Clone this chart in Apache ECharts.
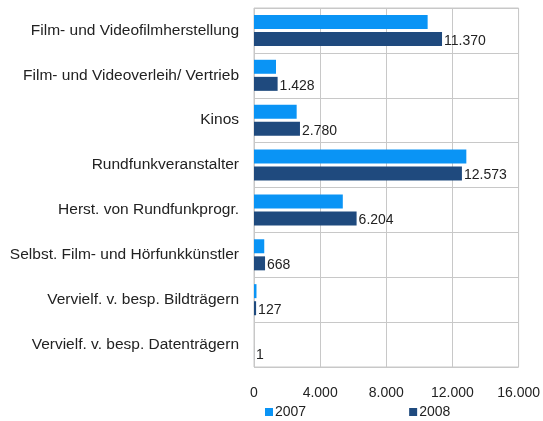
<!DOCTYPE html>
<html>
<head>
<meta charset="utf-8">
<script src="https://cdn.jsdelivr.net/npm/echarts@6/dist/echarts.min.js"></script>
<style>
html, body { margin: 0; padding: 0; background: #fff; }
#chart { width: 543px; height: 421px; }
</style>
</head>
<body>
<div id="chart"></div>
<script>
var categories = [
    'Film- und Videofilmherstellung',
    'Film- und Videoverleih/ Vertrieb',
    'Kinos',
    'Rundfunkveranstalter',
    'Herst. von Rundfunkprogr.',
    'Selbst. Film- und Hörfunkkünstler',
    'Vervielf. v. besp. Bildträgern',
    'Vervielf. v. besp. Datenträgern'
];
var values2007 = [10500, 1330, 2580, 12840, 5370, 620, 150, 0];
var values2008 = [11370, 1428, 2780, 12573, 6204, 668, 127, 1];
var seriesNames = ['2007', '2008'];

function dotNum(v) {
    return String(v).replace(/\B(?=(\d{3})+(?!\d))/g, '.');
}

var chart = echarts.init(document.getElementById('chart'));
var font = 'Liberation Sans, Arial, sans-serif';
chart.setOption({
    animation: false,
    textStyle: {fontFamily: font},
    grid: {
        left: 254, right: 24, top: 8, bottom: 54,
        show: true, borderColor: '#c8c8c8', borderWidth: 1
    },
    legend: {
        data: seriesNames,
        left: 260,
        top: 400,
        itemWidth: 8,
        itemHeight: 8,
        itemGap: 103,
        icon: 'rect',
        textStyle: {fontSize: 14, color: '#222', fontFamily: font, padding: [0, 0, 0, -3]}
    },
    xAxis: {
        type: 'value',
        min: 0,
        max: 16000,
        interval: 4000,
        axisLine: {show: false},
        axisTick: {show: false},
        splitLine: {lineStyle: {color: '#c8c8c8', width: 1}},
        axisLabel: {
            margin: 19,
            fontSize: 14,
            color: '#222',
            formatter: function (v) { return dotNum(v); }
        }
    },
    yAxis: {
        type: 'category',
        data: categories,
        inverse: true,
        axisLine: {show: false},
        axisTick: {show: false},
        splitLine: {show: true, lineStyle: {color: '#c8c8c8', width: 1}},
        axisLabel: {margin: 15, fontSize: 15.5, color: '#222'}
    },
    series: [
        {
            name: seriesNames[0],
            type: 'bar',
            data: values2007,
            barWidth: 14,
            barGap: '22%',
            itemStyle: {color: '#0a94f5'}
        },
        {
            name: seriesNames[1],
            type: 'bar',
            data: values2008,
            barWidth: 14,
            itemStyle: {color: '#1f4a7e'},
            label: {
                show: true,
                position: 'right',
                distance: 2,
                offset: [0, 2],
                fontSize: 14,
                color: '#222',
                formatter: function (p) { return dotNum(p.value); }
            }
        }
    ]
});
</script>
</body>
</html>
